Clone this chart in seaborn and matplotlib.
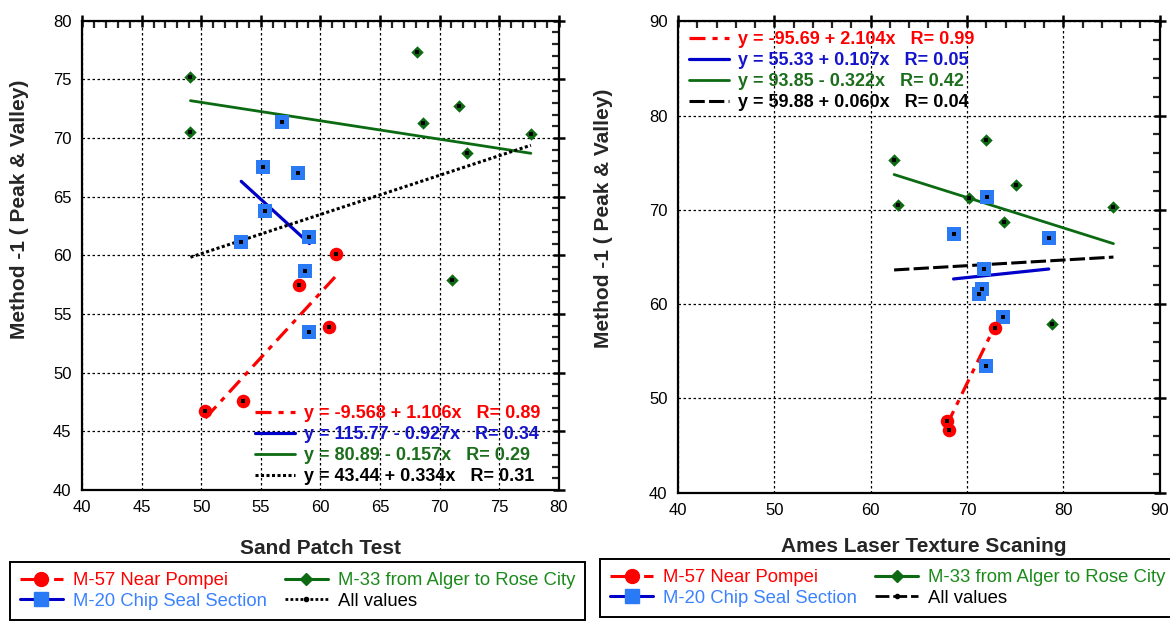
import numpy as np
import pandas as pd
import matplotlib
matplotlib.use("Agg")
import matplotlib.pyplot as plt
from matplotlib.lines import Line2D
from matplotlib.ticker import MultipleLocator
import seaborn as sns

# ====================== DATA ======================
groups = ["M-57 Near Pompei", "M-20 Chip Seal Section",
          "M-33 from Alger to Rose City", "All values"]

# left panel: Sand Patch Test vs Method-1
m57_sand_x = [50.35, 53.55, 58.2, 61.3, 60.75]
m57_sand_y = [46.7, 47.6, 57.45, 60.1, 53.9]
m20_sand_x = [56.8, 55.17, 58.09, 55.36, 53.36, 59.08, 58.7, 59.08]
m20_sand_y = [71.35, 67.5, 67.03, 63.74, 61.1, 61.6, 58.65, 53.46]
m33_sand_x = [49.1, 49.1, 68.1, 68.65, 71.64, 72.32, 77.67, 71.08]
m33_sand_y = [75.24, 70.5, 77.33, 71.26, 72.7, 68.73, 70.38, 57.9]

# right panel: Ames Laser Texture Scaning vs Method-1
m57_ames_x = [67.88, 68.15, 72.88]
m57_ames_y = [47.6, 46.6, 57.43]
m20_ames_x = [72.07, 68.6, 78.48, 71.8, 71.6, 71.27, 73.72, 71.95]
m20_ames_y = [71.36, 67.47, 67.04, 63.69, 61.63, 61.07, 58.6, 53.44]
m33_ames_x = [62.43, 62.81, 71.99, 70.19, 75.07, 73.84, 85.2, 78.79]
m33_ames_y = [75.25, 70.54, 77.37, 71.22, 72.63, 68.74, 70.27, 57.89]

# linear fits printed on the chart (M-57, M-20, M-33, All)
sand_intercepts = [-9.568, 115.77, 80.89, 43.44]
sand_slopes = [1.106, -0.927, -0.157, 0.334]
sand_fit_labels = ["y = -9.568 + 1.106x   R= 0.89",
                   "y = 115.77 - 0.927x   R= 0.34",
                   "y = 80.89 - 0.157x   R= 0.29",
                   "y = 43.44 + 0.334x   R= 0.31"]
ames_intercepts = [-95.69, 55.33, 93.85, 59.88]
ames_slopes = [2.104, 0.107, -0.322, 0.060]
ames_fit_labels = ["y = -95.69 + 2.104x   R= 0.99",
                   "y = 55.33 + 0.107x   R= 0.05",
                   "y = 93.85 - 0.322x   R= 0.42",
                   "y = 59.88 + 0.060x   R= 0.04"]

# ====================== STYLE ======================
sns.set_style("white")
plt.rcParams['font.family'] = ['Liberation Sans', 'DejaVu Sans']

RED = "#ff0000"
SQ_BLUE = "#2a7af5"
LINE_BLUE = "#0000c8"
GREEN = "#0b6a12"
TXT_BLUE = "#3b82ff"
TXT_GREEN = "#1b8a1b"
dashdot = (0, (5, 2.2, 1.6, 2.2))
dotted = (0, (1, 0.8))
dashed = (0, (5, 1.4))


def draw_panel(ax, pts, intercepts, slopes, all_ls, xmax, xstep, xminor, ystep, yminor, ymax):
    (x57, y57), (x20, y20), (x33, y33) = pts
    all_x = x57 + x20 + x33
    all_y = y57 + y20 + y33

    # fit lines over each group's x range
    ranges = [(min(x57), max(x57)), (min(x20), max(x20)),
              (min(x33), max(x33)), (min(all_x), max(all_x))]
    styles = [dict(color=RED, linestyle=dashdot, linewidth=2.3),
              dict(color=LINE_BLUE, linestyle="-", linewidth=2.3),
              dict(color=GREEN, linestyle="-", linewidth=2.0),
              dict(color="black", linestyle=all_ls, linewidth=2.2)]
    for (lo, hi), a, b, st in zip(ranges, intercepts, slopes, styles):
        xs = np.array([lo, hi])
        fit = pd.DataFrame({"x": xs, "y": a + b * xs})
        sns.lineplot(data=fit, x="x", y="y", ax=ax, zorder=3, **st)

    sns.scatterplot(x=x33, y=y33, marker="D", s=40, color=GREEN, linewidth=0, ax=ax, zorder=4)
    sns.scatterplot(x=x20, y=y20, marker="s", s=90, color=SQ_BLUE, linewidth=0, ax=ax, zorder=4)
    sns.scatterplot(x=x57, y=y57, marker="o", s=95, color=RED, linewidth=0, ax=ax, zorder=5)
    sns.scatterplot(x=all_x, y=all_y, marker="s", s=8, color="black", linewidth=0, ax=ax, zorder=6)

    ax.set_xlim(40, xmax)
    ax.set_ylim(40, ymax)
    ax.xaxis.set_major_locator(MultipleLocator(xstep))
    ax.xaxis.set_minor_locator(MultipleLocator(xminor))
    ax.yaxis.set_major_locator(MultipleLocator(ystep))
    ax.yaxis.set_minor_locator(MultipleLocator(yminor))
    ax.grid(True, which="major", color="black", linestyle=(0, (2, 2)), linewidth=0.9)
    ax.set_axisbelow(True)
    ax.tick_params(which="major", direction="inout", length=9, width=1.8,
                   top=True, right=True, labelsize=12, pad=3, colors="black")
    ax.tick_params(which="minor", direction="in", length=5, width=1.6,
                   top=True, right=True)
    for sp in ax.spines.values():
        sp.set_linewidth(1.6)
        sp.set_color("black")

    return [Line2D([], [], **st) for st in styles]


fig = plt.figure(figsize=(11.7, 6.21), dpi=100)
ax1 = fig.add_axes([0.0701, 0.2110, 0.4074, 0.7557])
ax2 = fig.add_axes([0.5795, 0.2066, 0.4117, 0.7591])

h1 = draw_panel(ax1, [(m57_sand_x, m57_sand_y), (m20_sand_x, m20_sand_y), (m33_sand_x, m33_sand_y)],
                sand_intercepts, sand_slopes, dotted, 80, 5, 1, 5, 1, 80)
h2 = draw_panel(ax2, [(m57_ames_x, m57_ames_y), (m20_ames_x, m20_ames_y), (m33_ames_x, m33_ames_y)],
                ames_intercepts, ames_slopes, dashed, 90, 10, 2, 10, 2, 90)

fit_colors = [RED, "#1414cc", "#1c6e1c", "black"]
fit_kw = dict(loc="upper left", frameon=False, borderpad=0, borderaxespad=0,
              handlelength=2.2, handletextpad=0.5, labelspacing=0.22,
              labelcolor=fit_colors, prop={"size": 13, "weight": "bold"})
ax1.legend(h1, sand_fit_labels, bbox_to_anchor=(0.363, 0.181), **fit_kw)
ax2.legend(h2, ames_fit_labels, bbox_to_anchor=(0.023, 0.979), **fit_kw)

ax1.set_xlabel("Sand Patch Test", fontsize=15, fontweight="bold")
ax2.set_xlabel("Ames Laser Texture Scaning", fontsize=15, fontweight="bold")
for ax in (ax1, ax2):
    ax.set_ylabel("Method -1 ( Peak & Valley)", fontsize=15, fontweight="bold")
ax1.xaxis.set_label_coords(0.5, -0.105)
ax2.xaxis.set_label_coords(0.51, -0.095)
ax1.yaxis.set_label_coords(-0.112, 0.597)
ax2.yaxis.set_label_coords(-0.135, 0.583)


# bottom legends
def group_handles(all_ls):
    return [
        Line2D([], [], color=RED, linestyle=dashdot, linewidth=2.2, marker="o",
               markersize=10, markerfacecolor=RED, markeredgecolor=RED),
        Line2D([], [], color=LINE_BLUE, linestyle="-", linewidth=2.2, marker="s",
               markersize=10, markerfacecolor=SQ_BLUE, markeredgecolor=SQ_BLUE),
        Line2D([], [], color=GREEN, linestyle="-", linewidth=2.2, marker="D",
               markersize=6, markerfacecolor=GREEN, markeredgecolor=GREEN),
        Line2D([], [], color="black", linestyle=all_ls, linewidth=2.0, marker="o",
               markersize=3, markerfacecolor="black", markeredgecolor="black"),
    ]


leg_colors = [RED, TXT_BLUE, TXT_GREEN, "black"]
for handles, anchor in [(group_handles(dotted), (0.0085, 0.0016)),
                        (group_handles(dashed), (0.513, 0.0064))]:
    leg = fig.legend(handles, groups, ncol=2, loc="lower left", bbox_to_anchor=anchor,
                     frameon=True, fancybox=False, edgecolor="black",
                     framealpha=1, fontsize=13.3, labelcolor=leg_colors,
                     handlelength=2.3, handletextpad=0.55, borderaxespad=0,
                     borderpad=0.55, labelspacing=0.2, columnspacing=1.0)
    leg.get_frame().set_linewidth(1.4)

fig.savefig("out.png", dpi=100)
